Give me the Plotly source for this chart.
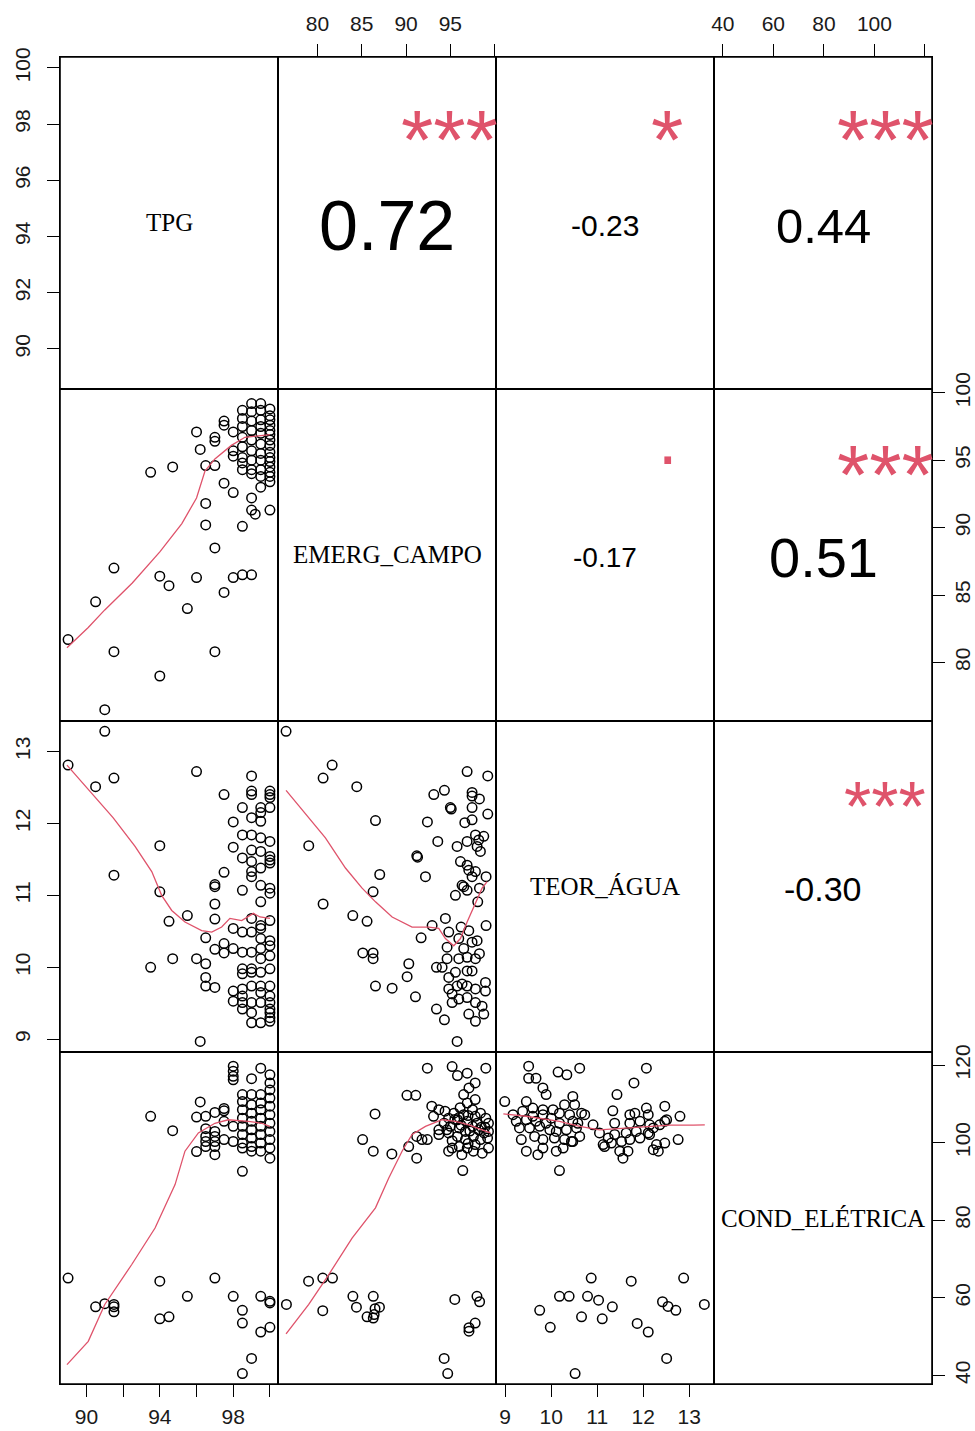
import plotly.graph_objects as go
from plotly.subplots import make_subplots

# Variable names shown on the diagonal
var_names = ["TPG", "EMERG_CAMPO", "TEOR_ÁGUA", "COND_ELÉTRICA"]

# Axis ranges per variable (x when in a column, y when in a row)
x_ranges = [[88.56, 100.44], [75.55, 100.15], [8.8, 13.54], [36.5, 122.8]]
y_ranges = [[88.58, 100.39], [75.7, 100.3], [8.82, 13.43], [37.8, 123.3]]

# Tick values and labels
tpg_ticks = [90, 92, 94, 96, 98, 100]
tpg_left_labels = ["90", "92", "94", "96", "98", "100"]
tpg_bottom_labels = ["90", "", "94", "", "98", ""]
emerg_ticks = [80, 85, 90, 95, 100]
emerg_top_labels = ["80", "85", "90", "95", ""]
emerg_right_labels = ["80", "85", "90", "95", "100"]
teor_ticks = [9, 10, 11, 12, 13]
teor_labels = ["9", "10", "11", "12", "13"]
cond_ticks = [40, 60, 80, 100, 120]
cond_top_labels = ["40", "60", "80", "100", ""]
cond_right_labels = ["40", "60", "80", "100", "120"]

# Correlation coefficients and significance codes (upper panels)
corr_cells = [(1, 2), (1, 3), (1, 4), (2, 3), (2, 4), (3, 4)]
corr_values = ["0.72", "-0.23", "0.44", "-0.17", "0.51", "-0.30"]
corr_sizes = [70, 30, 49, 28, 56, 34]
corr_stars = ["***", "*", "***", ".", "***", "***"]
star_sizes = [83, 83, 83, 70, 83, 70]
star_ypos = [0.749, 0.749, 0.749, 0.845, 0.739, 0.740]

# EMERG_CAMPO vs TPG
a_tpg = [89, 91, 91.5, 91.5, 90.5, 94, 93.5, 94.7, 94, 94.5, 95.5, 96, 97, 97, 96.5,
         96.5, 97.5, 98, 98.5, 99, 97.5, 98, 98.5, 99, 99, 99.2, 100, 99.5, 96.5, 97,
         96.2, 97, 97, 96, 97.5, 97.5, 98, 98, 98,
         98.5, 98.5, 98.5, 98.5, 98.5, 98.5, 98.5, 98.5,
         99, 99, 99, 99, 99, 99, 99, 99, 99,
         99.5, 99.5, 99.5, 99.5, 99.5, 99.5, 99.5, 99.5, 99.5, 99.5,
         100, 100, 100, 100, 100, 100, 100, 100, 100, 100, 100, 100, 100, 100, 100]
a_emerg = [81.7, 76.5, 80.8, 87.0, 84.5, 79.0, 94.1, 94.5, 86.4, 85.7, 84.0, 86.3, 80.8, 88.5, 90.2,
           91.8, 85.2, 86.3, 86.5, 86.5, 93.3, 92.6, 90.1, 92.2, 91.3, 91.0, 91.3, 93.0, 94.6, 94.6,
           95.8, 96.4, 96.7, 97.1, 97.9, 97.6, 97.1, 95.3, 95.7,
           98.7, 98.1, 97.5, 96.7, 96.0, 95.2, 94.8, 94.3,
           99.2, 98.6, 97.9, 97.2, 96.5, 95.7, 95.0, 94.3, 94.0,
           99.2, 98.7, 98.0, 97.5, 97.0, 96.2, 95.5, 95.0, 94.3, 93.8,
           98.8, 98.3, 98.0, 97.6, 97.2, 96.9, 96.5, 96.1, 95.6, 95.2, 94.9, 94.5, 94.1, 93.8, 93.4]
a_fit_x = [88.94, 90.1, 91.0, 92.5, 94.0, 95.2, 96.0, 96.46, 97.0, 97.9, 98.64, 100.0]
a_fit_y = [81.1, 82.6, 83.9, 85.9, 88.2, 90.3, 92.2, 94.2, 95.1, 96.1, 96.7, 96.9]

# TEOR_ÁGUA vs TPG
b_tpg = [91, 89, 90.5, 91.5, 91.5, 94, 94, 94.5, 93.5, 94.7, 95.5, 96, 96, 96.5, 96.5,
         96.5, 96.5, 96.2, 97, 97, 97, 97, 97, 97, 97.5, 98, 98, 97.5, 98, 97.5,
         98, 97.5, 98, 98,
         98.5, 98.5, 98.5, 98.5, 98.5, 98.5, 98.5, 98.5, 98.5, 98.5, 98.5, 98.5,
         99, 99, 99, 99, 99, 99, 99, 99, 99, 99, 99, 99, 99, 99, 99, 99, 99, 99,
         99.5, 99.5, 99.5, 99.5, 99.5, 99.5, 99.5, 99.5, 99.5, 99.5, 99.5, 99.5, 99.5, 99.5,
         99.5, 99.5, 99.5, 99.5,
         100, 100, 100, 100, 100, 100, 100, 100, 100, 100, 100, 100, 100, 100, 100, 100,
         100, 100, 100, 100, 100, 100]
b_teor = [13.28, 12.81, 12.51, 12.63, 11.28, 11.69, 11.05, 10.64, 10.0, 10.12, 10.72, 12.72, 10.12,
          10.05, 10.41, 9.86, 9.74, 8.97, 11.12, 11.15, 10.88, 10.67, 10.25, 9.72, 12.40, 12.02,
          11.67, 11.32, 10.54, 10.33, 10.26, 10.2, 9.67, 9.53,
          12.22, 11.84, 11.52, 11.07, 10.49, 10.21, 9.98, 9.91, 9.70, 9.60, 9.51, 9.42,
          12.66, 12.45, 12.40, 12.08, 11.84, 11.63, 11.47, 11.33, 11.26, 10.68, 10.49, 10.21,
          9.98, 9.93, 9.74, 9.51, 9.37, 9.23,
          12.22, 12.15, 12.03, 11.80, 11.61, 11.38, 11.14, 10.91, 10.58, 10.54, 10.40, 10.26,
          10.12, 9.93, 9.74, 9.65, 9.51, 9.23,
          12.45, 12.40, 12.36, 12.22, 11.75, 11.54, 11.49, 11.45, 11.10, 11.03, 10.65, 10.37,
          10.30, 10.16, 9.98, 9.74, 9.60, 9.51, 9.42, 9.37, 9.30, 9.25]
b_fit_x = [88.94, 90.1, 91.45, 92.65, 93.56, 94.1, 94.65, 95.37, 96.28, 96.83, 97.37, 97.82,
           98.46, 99.1, 99.46, 100.0]
b_fit_y = [12.81, 12.47, 12.08, 11.68, 11.33, 11.0, 10.79, 10.63, 10.51, 10.49, 10.56, 10.68,
           10.65, 10.75, 10.70, 10.68]

# TEOR_ÁGUA vs EMERG_CAMPO
c_emerg = [76.46, 81.66, 80.64, 84.44, 79.02, 86.55, 87.03, 86.28, 80.64, 83.99, 85.6, 85.12,
           86.28, 86.28, 86.55, 88.43, 90.31, 90.12, 91.06, 91.21, 91.3, 92.19, 92.41, 92.94,
           91.7, 93.58, 93.13, 94.33, 95.0, 95.1, 95.76, 95.57, 96.89, 99.22, 97.45, 97.45,
           98.28, 97.45, 97.45, 96.63, 99.22, 96.89, 97.83, 98.2, 98.77, 98.02, 98.39, 96.14,
           96.89, 97.08, 97.83, 97.45, 96.32, 96.51, 96.89, 98.28, 99.03, 98.09, 94.44, 94.82,
           96.21, 97.08, 99.03, 94.63, 95.95, 96.51, 97.45, 98.02, 98.28, 93.43, 94.07, 94.63,
           95.95, 96.89, 97.83, 94.82, 95.57, 96.89, 97.45, 98.96, 94.82, 95.2, 95.76, 96.32,
           96.89, 97.83, 98.96, 95.2, 95.95, 96.89, 97.83, 98.58, 93.43, 94.33, 97.08, 97.83,
           98.77, 95.76]
c_teor = [13.28, 12.81, 12.63, 12.51, 11.69, 12.04, 11.29, 11.05, 10.88, 10.72, 10.64, 10.20,
          10.20, 10.12, 9.74, 9.71, 10.05, 9.87, 9.59, 11.55, 11.53, 11.26, 12.02, 10.58,
          10.41, 11.75, 12.40, 12.46, 12.22, 12.20, 11.68, 11.0, 12.72, 12.66, 12.43, 12.38,
          12.34, 12.22, 12.05, 12.01, 12.13, 11.75, 11.84, 11.77, 11.82, 11.68, 11.61, 11.47,
          11.42, 11.35, 11.33, 11.26, 11.14, 11.12, 11.07, 11.10, 11.26, 10.91, 10.68, 10.49,
          10.56, 10.51, 10.58, 10.28, 10.40, 10.26, 10.35, 10.37, 10.19, 10.0, 10.0, 10.12,
          10.12, 10.14, 10.12, 9.86, 9.93, 9.95, 9.95, 9.79, 9.70, 9.63, 9.74, 9.77,
          9.74, 9.70, 9.67, 9.51, 9.56, 9.58, 9.51, 9.46, 9.42, 9.27, 9.35, 9.25,
          9.35, 8.97]
c_fit_x = [76.46, 79.02, 80.9, 83.16, 85.04, 86.55, 88.43, 90.68, 92.56, 93.69, 94.44, 95.38,
           96.14, 96.89, 97.83, 98.58, 99.15]
c_fit_y = [12.46, 12.08, 11.8, 11.38, 11.1, 10.91, 10.70, 10.56, 10.56, 10.54, 10.40, 10.30,
           10.40, 10.63, 10.89, 11.10, 11.19]

# COND_ELÉTRICA vs TPG
d_tpg = [89, 90.5, 91, 91.5, 91.5, 91.5, 94, 94, 94.5, 95.5, 97, 98, 98.5, 98.5, 99.5, 100,
         100, 99.5, 100, 99, 98.5, 93.5, 94.7, 96.2, 96, 96.5, 97, 97.5, 97.5, 96, 96.5, 97,
         97, 96.5, 97, 96.5, 97, 96.5, 97, 97.5, 98, 97.5, 98, 98, 98, 98, 98, 99, 99.5, 98.5,
         98.5, 98.5, 98.5, 98.5, 98.5, 98.5, 98.5, 98.5,
         99, 99, 99, 99, 99, 99, 99, 99,
         99.5, 99.5, 99.5, 99.5, 99.5, 99.5, 99.5, 99.5,
         100, 100, 100, 100, 100, 100, 100, 100, 100, 100, 100]
d_cond = [65.1, 57.7, 58.5, 57.7, 56.4, 58.3, 64.3, 54.6, 55.1, 60.4, 65.1, 60.4, 56.8, 53.5,
          60.4, 59.1, 58.7, 51.2, 52.4, 44.4, 40.5, 106.8, 103.1, 110.5, 106.6, 106.8, 107.8,
          108.8, 108.2, 97.7, 99.0, 99.0, 96.9, 100.3, 100.3, 101.6, 101.6, 103.6, 102.9, 105.5,
          104.2, 100.8, 100.3, 119.7, 118.4, 117.1, 116.2, 116.5, 119.2, 92.6,
          112.4, 110.6, 108.5, 106.3, 104.2, 102.1, 99.9, 98.6,
          112.4, 109.8, 107.6, 105.5, 103.3, 101.2, 99.0, 97.8,
          112.4, 110.2, 108.5, 106.3, 104.2, 102.1, 99.9, 97.8,
          117.5, 115.4, 113.6, 111.5, 109.4, 107.2, 105.0, 102.9, 100.8, 98.6, 96.0]
d_fit_x = [88.94, 90.1, 91.0, 92.47, 93.74, 94.83, 95.37, 96.1, 97.0, 97.73, 98.82, 99.55, 100.0]
d_fit_y = [42.8, 48.8, 58.3, 68.6, 78.0, 89.2, 97.8, 102.5, 105.0, 105.9, 105.5, 105.0, 104.2]

# COND_ELÉTRICA vs EMERG_CAMPO
e_emerg = [76.5, 79.0, 80.6, 81.7, 80.6, 84.0, 84.4, 86.3, 87.0, 86.5, 85.6, 86.3, 86.4, 95.5,
           98.0, 98.3, 97.8, 97.1, 97.1, 94.3, 94.7,
           86.5, 85.1, 86.3, 88.4, 90.1, 91.1, 90.3, 91.2, 91.2, 91.8, 92.4, 93.7, 92.4, 95.2,
           95.8, 96.9, 99.0, 97.8, 96.5, 97.1, 97.8, 96.9,
           92.9, 93.7, 93.1, 94.4, 94.8, 95.4, 95.8, 96.1, 96.5, 96.9, 97.5, 97.8, 98.4, 99.0,
           99.3, 94.3, 95.0, 96.0, 96.7, 97.5, 98.2, 98.8, 99.3, 94.8, 95.8, 96.7, 97.6, 98.4,
           99.2, 94.8, 95.2, 96.0, 96.9, 97.6, 98.6, 99.3, 93.7, 94.6, 97.8, 96.3, 96.4,
           95.5, 96.2, 97.0, 98.0, 98.5, 96.0, 97.2, 98.9, 95.2, 97.0]
e_cond = [58.3, 64.3, 65.1, 65.1, 56.7, 60.4, 57.6, 60.4, 57.6, 57.2, 55.1, 54.8, 55.7, 59.6,
          60.4, 59.0, 53.5, 52.3, 51.4, 44.4, 40.5,
          107.4, 100.8, 97.8, 97.1, 112.2, 112.2, 99.0, 96.0, 101.6, 100.8, 100.8, 102.1, 119.2,
          119.6, 117.3, 117.9, 119.2, 115.4, 112.4, 114.1, 111.1, 110.2,
          109.4, 108.5, 106.8, 108.1, 106.3, 107.6, 105.9, 109.0, 107.2, 105.5, 108.5, 106.8,
          107.6, 106.3, 105.0, 105.0, 104.2, 103.8, 102.9, 104.2, 103.3, 102.5, 102.9, 102.5,
          101.6, 100.8, 101.6, 100.8, 101.2, 97.8, 98.6, 99.0, 98.6, 97.8, 97.3, 98.6, 103.3,
          103.3, 99.5, 96.9, 92.8,
          106.0, 104.5, 107.0, 105.0, 104.0, 106.5, 103.0, 104.0, 100.5, 99.8]
e_fit_x = [76.46, 79.02, 81.28, 83.91, 86.55, 88.05, 89.55, 90.68, 92.19, 94.07, 95.57, 97.08,
           98.58, 99.52]
e_fit_y = [50.7, 58.3, 66.0, 75.4, 83.2, 90.9, 97.8, 102.1, 104.2, 105.9, 105.5, 104.6, 103.3,
           102.5]

# COND_ELÉTRICA vs TEOR_ÁGUA
f_teor = [10.87, 11.74, 12.88, 10.18, 10.39, 10.79, 11.03, 11.33, 9.75, 10.66, 11.11, 9.98,
          11.87, 12.11, 12.42, 12.54, 12.71, 13.33, 12.51, 10.52,
          8.99, 9.51, 9.51, 9.67, 10.15, 10.34, 10.62, 9.82, 9.89, 10.47,
          9.46, 9.60, 9.82, 10.04, 10.29, 10.51,
          9.17, 9.38, 9.60, 9.82, 10.0, 10.18, 10.40, 10.66, 10.73,
          9.24, 9.46, 9.67, 9.89, 10.18, 10.47, 10.58,
          9.31, 9.53, 9.75, 9.97, 10.11, 10.33, 10.55,
          9.35, 9.64, 9.82, 10.07, 10.29, 10.47, 10.62,
          9.46, 9.71, 9.82, 10.11, 10.26, 10.44, 10.18,
          12.07, 11.80, 11.43, 11.34, 11.71, 11.82, 12.07, 12.47, 12.80, 12.11,
          10.91, 11.38, 11.71, 11.93, 12.14, 12.51, 12.47,
          11.05, 11.24, 11.38, 11.63, 11.85, 12.11, 12.22, 12.36,
          11.13, 11.31, 11.53, 11.71, 11.93, 12.14,
          11.16, 11.49, 11.56, 11.67, 12.29, 12.33, 12.47, 12.76, 12.22]
f_cond = [65.1, 64.3, 65.1, 60.4, 60.4, 60.4, 59.4, 57.7, 56.8, 55.1, 54.6, 52.4,
          53.4, 51.2, 59.0, 57.8, 56.8, 58.3, 44.4, 40.5,
          110.6, 119.7, 116.6, 116.6, 118.2, 117.5, 119.2, 114.1, 112.4, 111.9,
          110.6, 108.9, 108.5, 108.5, 109.8, 109.8,
          107.2, 108.1, 106.8, 107.2, 106.3, 107.6, 107.2, 107.6, 107.2,
          105.5, 105.9, 105.5, 105.0, 105.0, 105.5, 105.0,
          103.8, 103.8, 104.2, 103.3, 102.9, 103.3, 103.8,
          100.8, 101.6, 100.8, 101.2, 100.8, 100.3, 101.6,
          97.8, 96.9, 98.6, 97.8, 98.6, 100.3, 92.8,
          119.2, 115.4, 112.4, 108.2, 107.2, 107.6, 108.9, 109.4, 106.8, 107.2,
          104.6, 105.0, 105.0, 105.5, 104.6, 105.9, 105.5,
          102.5, 101.2, 102.1, 102.5, 102.9, 102.5, 103.8, 104.6,
          99.5, 99.9, 100.3, 100.8, 101.2, 102.1,
          99.0, 97.8, 96.0, 97.8, 99.5, 97.8, 99.9, 100.8, 98.2]
f_fit_x = [8.96, 9.46, 10.18, 10.62, 11.05, 11.63, 12.14, 12.58, 13.09, 13.34]
f_fit_y = [107.4, 106.8, 105.5, 104.2, 103.3, 103.8, 104.2, 104.5, 104.5, 104.6]

scatter_panels = [
    (2, 1, a_tpg, a_emerg, a_fit_x, a_fit_y),
    (3, 1, b_tpg, b_teor, b_fit_x, b_fit_y),
    (3, 2, c_emerg, c_teor, c_fit_x, c_fit_y),
    (4, 1, d_tpg, d_cond, d_fit_x, d_fit_y),
    (4, 2, e_emerg, e_cond, e_fit_x, e_fit_y),
    (4, 3, f_teor, f_cond, f_fit_x, f_fit_y),
]

RED = "#DF536B"
SANS = "Liberation Sans, Arial, sans-serif"
SERIF = "Liberation Serif, Times New Roman, serif"
TICKFONT = dict(family=SANS, size=21, color="#1a1a1a")

fig = make_subplots(rows=4, cols=4, horizontal_spacing=0, vertical_spacing=0)

filled = set()
for r, c, xs, ys, fx, fy in scatter_panels:
    filled.add((r, c))
    fig.add_trace(go.Scatter(x=xs, y=ys, mode="markers",
                             marker=dict(symbol="circle-open", size=9.5, color="black",
                                         line=dict(width=1.5, color="black")),
                             showlegend=False, hoverinfo="skip"), row=r, col=c)
    fig.add_trace(go.Scatter(x=fx, y=fy, mode="lines",
                             line=dict(color=RED, width=1.3),
                             showlegend=False, hoverinfo="skip"), row=r, col=c)

# empty traces so the text-only panels still get their frames and axes
for r in range(1, 5):
    for c in range(1, 5):
        if (r, c) not in filled:
            fig.add_trace(go.Scatter(x=[], y=[], mode="markers", showlegend=False,
                                     hoverinfo="skip"), row=r, col=c)

box = dict(showline=True, mirror=True, linecolor="black", linewidth=1.0, automargin=False,
           showgrid=False, zeroline=False, ticks="", showticklabels=False, fixedrange=True)
for r in range(1, 5):
    for c in range(1, 5):
        fig.update_xaxes(range=x_ranges[c - 1], **box, row=r, col=c)
        fig.update_yaxes(range=y_ranges[r - 1], **box, row=r, col=c)

tick_common = dict(ticks="outside", ticklen=12, tickwidth=1.4, tickcolor="black",
                   showticklabels=True, tickfont=TICKFONT)

# left axes: rows 1 and 3
fig.update_yaxes(tickvals=tpg_ticks, ticktext=tpg_left_labels, tickangle=-90,
                 ticklabelstandoff=9, **tick_common, row=1, col=1)
fig.update_yaxes(tickvals=teor_ticks, ticktext=teor_labels, tickangle=-90,
                 ticklabelstandoff=9, **tick_common, row=3, col=1)
# right axes: rows 2 and 4
fig.update_yaxes(tickvals=emerg_ticks, ticktext=emerg_right_labels, tickangle=-90,
                 side="right", ticklabelstandoff=0, **tick_common, row=2, col=4)
fig.update_yaxes(tickvals=cond_ticks, ticktext=cond_right_labels, tickangle=-90,
                 side="right", ticklabelstandoff=0, **tick_common, row=4, col=4)
# top axes: columns 2 and 4
fig.update_xaxes(tickvals=emerg_ticks, ticktext=emerg_top_labels, side="top",
                 ticklabelstandoff=5, **tick_common, row=1, col=2)
fig.update_xaxes(tickvals=cond_ticks, ticktext=cond_top_labels, side="top",
                 ticklabelstandoff=5, **tick_common, row=1, col=4)
# bottom axes: columns 1 and 3
fig.update_xaxes(tickvals=tpg_ticks, ticktext=tpg_bottom_labels,
                 ticklabelstandoff=2, **tick_common, row=4, col=1)
fig.update_xaxes(tickvals=teor_ticks, ticktext=teor_labels,
                 ticklabelstandoff=2, **tick_common, row=4, col=3)

annotations = []


def axis_idx(r, c):
    return (r - 1) * 4 + c


def ref(idx):
    return ("x domain", "y domain") if idx == 1 else (f"x{idx} domain", f"y{idx} domain")


# diagonal names
for k, name in enumerate(var_names):
    xr, yr = ref(axis_idx(k + 1, k + 1))
    annotations.append(dict(text=name, x=0.5, y=0.5, xref=xr, yref=yr, showarrow=False,
                            xanchor="center", yanchor="middle",
                            font=dict(family=SERIF, size=25, color="black")))

# correlations and stars
for (r, c), val, sz, st, ssz, sy in zip(corr_cells, corr_values, corr_sizes, corr_stars,
                                         star_sizes, star_ypos):
    xr, yr = ref(axis_idx(r, c))
    annotations.append(dict(text=val, x=0.5, y=0.5, xref=xr, yref=yr, showarrow=False,
                            xanchor="center", yanchor="middle", yshift=-3,
                            font=dict(family=SANS, size=sz, color="black")))
    annotations.append(dict(text=st, x=0.785, y=sy, xref=xr, yref=yr, showarrow=False,
                            xanchor="center", yanchor="middle",
                            font=dict(family=SANS, size=ssz, color=RED)))

# outer frame of the whole matrix
fig.add_shape(type="rect", xref="paper", yref="paper", x0=0, x1=1, y0=0, y1=1,
              line=dict(color="black", width=1.6), layer="above")

fig.update_layout(width=975, height=1431, margin=dict(l=60, r=43, t=57, b=47),
                  paper_bgcolor="white", plot_bgcolor="white", annotations=annotations,
                  showlegend=False)

fig.write_html("out.html")
